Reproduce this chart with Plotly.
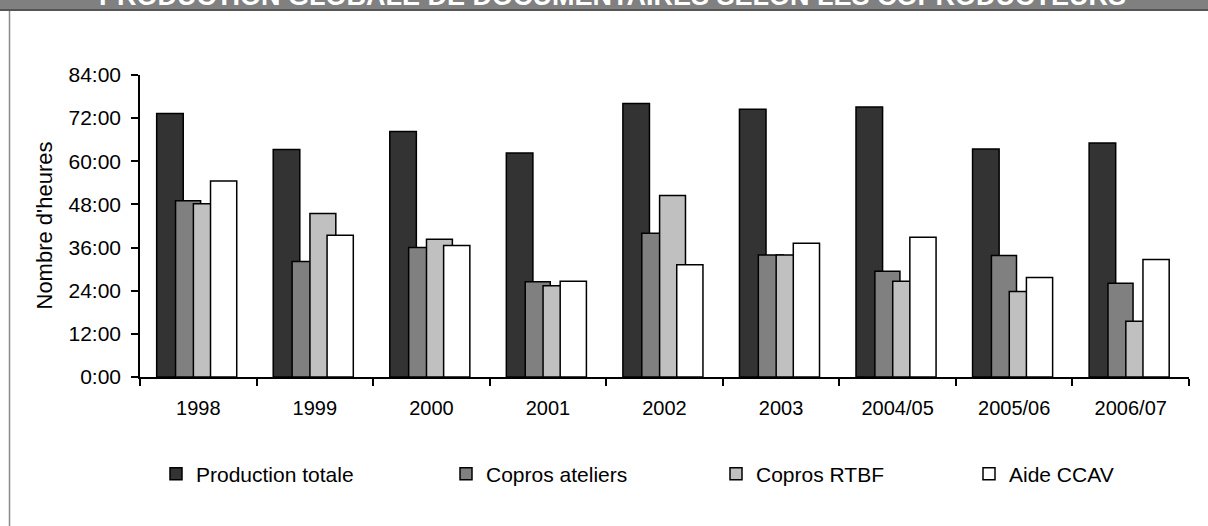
import plotly.graph_objects as go

# Années / saisons de production
categories = ["1998", "1999", "2000", "2001", "2002", "2003", "2004/05", "2005/06", "2006/07"]

# Nombre d'heures (valeurs décimales) par coproducteur
production_totale = [73.3, 63.3, 68.3, 62.3, 76.1, 74.5, 75.1, 63.4, 65.1]
copros_ateliers = [49.0, 32.1, 36.0, 26.5, 40.0, 33.9, 29.4, 33.8, 26.1]
copros_rtbf = [48.2, 45.5, 38.3, 25.4, 50.5, 33.9, 26.6, 23.8, 15.5]
aide_ccav = [54.5, 39.4, 36.6, 26.6, 31.2, 37.2, 38.9, 27.7, 32.7]

series_names = ["Production totale", "Copros ateliers", "Copros RTBF", "Aide CCAV"]
series_values = [production_totale, copros_ateliers, copros_rtbf, aide_ccav]

# Graduations de l'axe des heures
y_tickvals = [0, 12, 24, 36, 48, 60, 72, 84]
y_ticktext = ["0:00", "12:00", "24:00", "36:00", "48:00", "60:00", "72:00", "84:00"]

title_text = "PRODUCTION GLOBALE DE DOCUMENTAIRES SELON LES COPRODUCTEURS"
y_title = "Nombre d'heures"

# Styles
fills = ["#333333", "#808080", "#C0C0C0", "#FFFFFF"]
offsets = [-0.357, -0.195, -0.042, 0.105]
widths = [0.228, 0.215, 0.222, 0.225]
legend_left_px = [156, 446, 716, 969]
FONT = "Liberation Sans, Arial, sans-serif"

W, H = 1208, 526
ML, MR, MT, MB = 140, 19, 75, 149
PW, PH = W - ML - MR, H - MT - MB


def px_x(px):
    return (px - ML) / PW


def px_y(py):
    return (H - MB - py) / PH


fig = go.Figure()
legend_ids = ["legend", "legend2", "legend3", "legend4"]
for i, (name, vals) in enumerate(zip(series_names, series_values)):
    fig.add_trace(go.Bar(
        x=categories, y=vals, name=name,
        offset=offsets[i], width=widths[i],
        marker=dict(color=fills[i], line=dict(color="#000000", width=1.5)),
        legend=legend_ids[i],
    ))

legend_common = dict(
    orientation="h", xanchor="left", yanchor="middle",
    font=dict(family=FONT, size=21, color="#000000"),
    bgcolor="rgba(0,0,0,0)", borderwidth=0, itemwidth=30,
)
layout_legends = {}
for lid, lx in zip(legend_ids, legend_left_px):
    layout_legends[lid] = dict(legend_common, x=px_x(lx), y=px_y(474))

fig.update_layout(
    width=W, height=H,
    margin=dict(l=ML, r=MR, t=MT, b=MB, pad=0),
    paper_bgcolor="#FFFFFF", plot_bgcolor="#FFFFFF",
    barmode="overlay",
    showlegend=True,
    font=dict(family=FONT, size=20, color="#000000"),
    xaxis=dict(
        type="category", range=[-0.5, len(categories) - 0.5],
        showline=True, linecolor="#000000", linewidth=1.5,
        ticks="outside", ticklen=7, tickwidth=1.5, tickcolor="#000000",
        tickson="boundaries", showgrid=False, zeroline=False,
        tickfont=dict(family=FONT, size=20, color="#000000"),
        ticklabelstandoff=12,
    ),
    yaxis=dict(
        range=[0, 84], tickvals=y_tickvals, ticktext=y_ticktext,
        showline=True, linecolor="#000000", linewidth=1.5,
        ticks="outside", ticklen=7, tickwidth=1.5, tickcolor="#000000",
        showgrid=False, zeroline=False,
        tickfont=dict(family=FONT, size=21, color="#000000"),
        ticklabelstandoff=6,
    ),
    **layout_legends,
)

# Bandeau de titre et cadre
fig.add_shape(type="rect", xref="paper", yref="paper",
              x0=px_x(-5), x1=px_x(W + 5), y0=px_y(10), y1=px_y(-10),
              fillcolor="#808080", line_width=0, layer="below")
fig.add_shape(type="line", xref="paper", yref="paper",
              x0=px_x(-5), x1=px_x(W + 5), y0=px_y(10), y1=px_y(10),
              line=dict(color="#555555", width=2))
fig.add_shape(type="line", xref="paper", yref="paper",
              x0=px_x(9.5), x1=px_x(9.5), y0=px_y(11), y1=px_y(H + 5),
              line=dict(color="#8a8a8a", width=1.5))

fig.add_annotation(
    text="<b>" + title_text + "</b>", xref="paper", yref="paper",
    x=px_x(612), y=px_y(13), xanchor="center", yanchor="bottom",
    showarrow=False, font=dict(family=FONT, size=27, color="#FFFFFF"),
)
fig.add_annotation(
    text=y_title, xref="paper", yref="paper",
    x=px_x(43.5), y=px_y(226), xanchor="center", yanchor="middle",
    textangle=-90, showarrow=False,
    font=dict(family=FONT, size=22, color="#000000"),
)

fig.write_html("out.html")
